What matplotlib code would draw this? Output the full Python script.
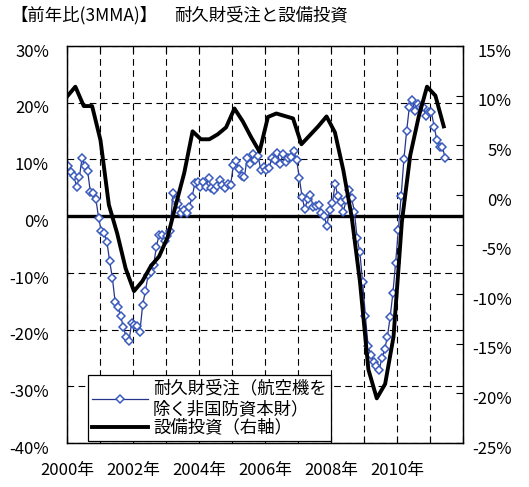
import numpy as np
import matplotlib.pyplot as plt
from matplotlib.transforms import ScaledTranslation

plt.rcParams['font.family'] = ['Noto Sans CJK JP', 'DejaVu Sans']

# 耐久財受注(航空機を除く非国防資本財) 前年比3MMA, 2000/1 - 2011/6 (月次)
orders = [8.8, 7.8, 7.0, 5.2, 6.9, 10.3, 8.8, 8.0, 4.2, 4.0,
          3.0, -0.3, -2.7, -3.0, -4.5, -7.9, -10.9, -15.1, -16.0, -17.6,
          -19.6, -21.3, -22.1, -18.9, -19.2, -19.4, -20.4, -15.7, -13.2, -10.4,
          -9.9, -8.6, -5.4, -3.3, -3.3, -4.4, -3.5, -2.7, 4.1, 2.8,
          2.1, 0.6, 1.1, 0.6, 1.6, 3.4, 5.8, 6.0, 5.2, 6.0,
          5.2, 6.7, 4.9, 4.6, 5.4, 6.3, 5.5, 5.0, 5.7, 5.5,
          9.0, 9.8, 8.3, 7.1, 6.9, 10.2, 9.2, 11.0, 9.9, 10.6,
          8.1, 8.6, 8.1, 8.5, 10.3, 9.9, 11.1, 9.2, 10.9, 9.6,
          10.2, 10.4, 11.4, 9.9, 6.7, 3.3, 1.2, 3.1, 3.7, 1.7,
          1.8, 2.0, 0.6, 0.0, -1.7, 1.1, 2.3, 5.7, 3.5, 2.5,
          0.8, 2.8, 4.6, 3.2, 0.8, -3.9, -6.4, -11.7, -17.6, -22.9,
          -24.5, -25.8, -26.5, -27.1, -25.1, -23.5, -21.3, -17.8, -13.6, -8.2,
          -2.4, 3.5, 10.0, 15.0, 19.3, 20.4, 18.6, 19.8, 19.3, 19.2,
          17.7, 18.4, 18.4, 15.8, 13.4, 12.2, 12.2, 10.3]

# 設備投資 前年比, 2000Q1 - 2011Q2 (四半期, 右軸)
capex = [9.9, 10.9, 8.95, 8.95, 5.5, -1.0, -3.9, -7.4, -9.7, -8.7,
         -7.2, -6.2, -4.3, -1.0, 2.2, 6.4, 5.6, 5.6, 6.1, 6.8,
         8.7, 7.4, 5.8, 4.35, 7.85, 8.2, 7.95, 7.7, 5.1, 6.0,
         6.9, 7.9, 6.3, 2.5, -2.2, -8.8, -17.6, -20.5, -19.05, -14.3,
         -2.7, 4.0, 7.85, 10.9, 10.0, 6.9]

years = ['2000年', '2002年', '2004年', '2006年', '2008年', '2010年']
left_ticks = [30, 20, 10, 0, -10, -20, -30, -40]
right_ticks = [15, 10, 5, 0, -5, -10, -15, -20, -25]

fig = plt.figure(figsize=(5.29, 4.87), dpi=100)
ax = fig.add_axes([67/529, 1-443/487, 396/529, 397/487])

mx = np.arange(len(orders)) + 0.5
qx = np.linspace(0, len(orders) - 1, len(capex))

ax.set_xlim(0, 144)
ax.set_ylim(-40, 30)
ax.set_xticks(np.arange(0, 145, 12))
xlabels = []
for i in range(13):
    xlabels.append(years[i//2] if i % 2 == 0 and i//2 < len(years) else '')
ax.set_xticklabels(xlabels)
ax.set_yticks(left_ticks)
ax.set_yticklabels([f'{v}%' for v in left_ticks])
ax.tick_params(axis='x', direction='in', top=True, length=5, width=0.8, pad=14, labelsize=12)
ax.tick_params(axis='y', direction='in', length=0, pad=13, labelsize=12)
ax.grid(True, color='black', lw=0.8, ls=(0, (6, 4)))
ax.axhline(0, color='black', lw=2.4, zorder=3)

ln1, = ax.plot(mx, orders, color='#24358a', lw=0.9, marker='D', ms=4,
               mfc='white', mec='#3a5bbd', mew=1.1, zorder=4,
               label='耐久財受注（航空機を\n除く非国防資本財）')

ax2 = ax.twinx()
ax2.set_ylim(-25, 15)
ax2.set_yticks(right_ticks)
ax2.set_yticklabels([f'{v}%' for v in right_ticks], ha='right')
ax2.tick_params(axis='y', direction='in', length=5, width=0.8, pad=35, labelsize=12)
ln2, = ax2.plot(qx, capex, color='black', lw=2.8, zorder=5, label='設備投資（右軸）')

for a in (ax, ax2):
    for s in a.spines.values():
        s.set_color('black')
        s.set_linewidth(0.9)

off = ScaledTranslation(0, -3/72, fig.dpi_scale_trans)
for lab in ax.get_yticklabels() + ax2.get_yticklabels():
    lab.set_transform(lab.get_transform() + off)

leg = ax2.legend(handles=[ln1, ln2], loc='lower left',
                 bbox_to_anchor=(88/529, 1-441/487), bbox_transform=fig.transFigure,
                 borderaxespad=0, fancybox=False, framealpha=1, edgecolor='black',
                 fontsize=12.5, handlelength=3.2, handletextpad=0.3, labelspacing=0.05,
                 borderpad=0.25, numpoints=1)
leg.get_frame().set_linewidth(0.9)

fig.text(10/529, 1-15/487, '【前年比(3MMA)】', fontsize=12.5, va='center')
fig.text(174/529, 1-15/487, '耐久財受注と設備投資', fontsize=12.5, va='center')

fig.savefig('out.png', dpi=100)
